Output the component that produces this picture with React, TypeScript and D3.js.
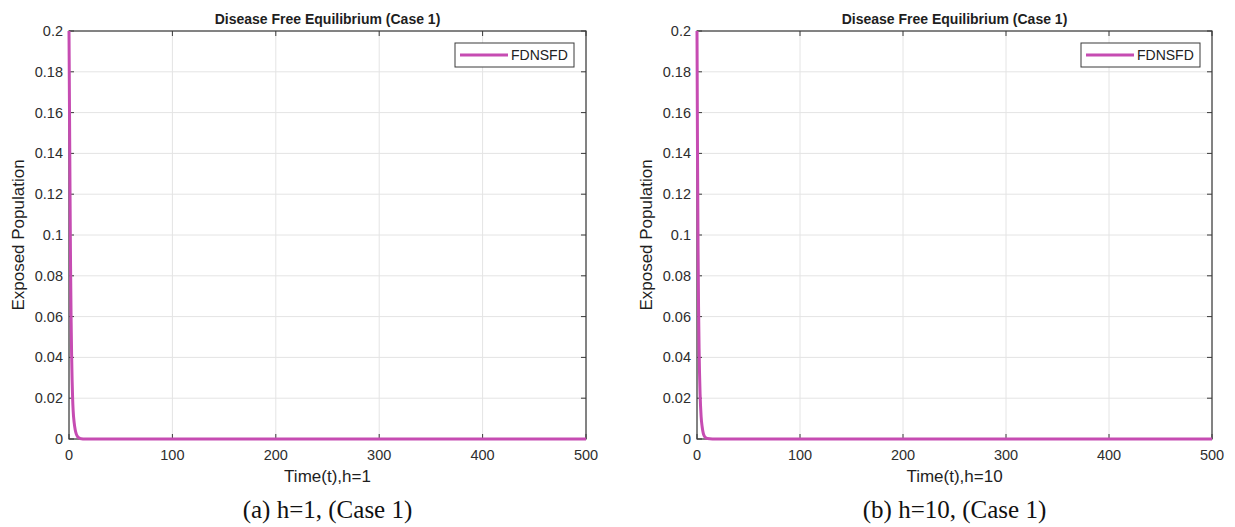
import React from "react";
import * as d3 from "d3";

const timeA = [0, 0.5, 1, 1.5, 2, 2.5, 3, 3.5, 4, 5, 6, 7, 8, 10, 12, 15, 50, 100, 200, 300, 400, 500];
const exposedA = [0.2, 0.16, 0.12, 0.085, 0.06, 0.042, 0.029, 0.02, 0.014, 0.008, 0.0045, 0.0025, 0.0014, 0.0005, 0.0001, 0, 0, 0, 0, 0, 0, 0];
const timeB = [0, 0.5, 1, 1.5, 2, 3, 4, 5, 6, 7, 8, 10, 15, 50, 100, 200, 300, 400, 500];
const exposedB = [0.2, 0.14, 0.095, 0.065, 0.045, 0.022, 0.011, 0.006, 0.003, 0.0015, 0.0008, 0.0002, 0, 0, 0, 0, 0, 0, 0];
const xTicks = [0, 100, 200, 300, 400, 500];
const yTicks = [0, 0.02, 0.04, 0.06, 0.08, 0.1, 0.12, 0.14, 0.16, 0.18, 0.2];
const title = "Disease Free Equilibrium (Case 1)";
const yLabel = "Exposed Population";
const seriesName = "FDNSFD";

const AX = "#3a3a3a";
const GRID = "#e4e4e4";
const LINE = "#c64cb2";
const SANS = "'Liberation Sans', Arial, Helvetica, sans-serif";
const SERIF = "'Liberation Serif', 'Times New Roman', serif";

function Panel({ x0, x1, t, v, xLabel, caption, id }: { x0: number; x1: number; t: number[]; v: number[]; xLabel: string; caption: string; id: string }) {
  const y0 = 31, y1 = 439;
  const xs = d3.scaleLinear().domain([0, 500]).range([x0, x1]);
  const ys = d3.scaleLinear().domain([0, 0.2]).range([y1, y0]);
  const pts: [number, number][] = t.map((tt, i) => [tt, v[i]]);
  const line = d3.line<[number, number]>().x(d => xs(d[0])).y(d => ys(d[1])).curve(d3.curveMonotoneX);
  const cx = (x0 + x1) / 2;
  const tl = 5;
  const lgX1 = x1 - 12, lgX0 = lgX1 - 119;
  return (
    <g>
      <defs>
        <clipPath id={id}><rect x={x0 - 2} y={y0 - 2} width={x1 - x0 + 4} height={y1 - y0 + 4} /></clipPath>
      </defs>
      <rect x={x0} y={y0} width={x1 - x0} height={y1 - y0} fill="#fff" />
      {xTicks.map(tk => <line key={"gx" + tk} x1={xs(tk)} x2={xs(tk)} y1={y0} y2={y1} stroke={GRID} strokeWidth={1} />)}
      {yTicks.map(tk => <line key={"gy" + tk} x1={x0} x2={x1} y1={ys(tk)} y2={ys(tk)} stroke={GRID} strokeWidth={1} />)}
      {xTicks.map(tk => (
        <g key={"tx" + tk}>
          <line x1={xs(tk)} x2={xs(tk)} y1={y1} y2={y1 - tl} stroke={AX} />
          <line x1={xs(tk)} x2={xs(tk)} y1={y0} y2={y0 + tl} stroke={AX} />
          <text x={xs(tk)} y={y1 + 21} textAnchor="middle" fontFamily={SANS} fontSize={14.5} fill="#2e2e2e">{tk}</text>
        </g>
      ))}
      {yTicks.map(tk => (
        <g key={"ty" + tk}>
          <line x1={x0} x2={x0 + tl} y1={ys(tk)} y2={ys(tk)} stroke={AX} />
          <line x1={x1} x2={x1 - tl} y1={ys(tk)} y2={ys(tk)} stroke={AX} />
          <text x={x0 - 6} y={ys(tk) + 5} textAnchor="end" fontFamily={SANS} fontSize={14.5} fill="#2e2e2e">{String(+tk.toFixed(2))}</text>
        </g>
      ))}
      <rect x={x0} y={y0} width={x1 - x0} height={y1 - y0} fill="none" stroke={AX} strokeWidth={1.2} />
      <path d={line(pts) || ""} fill="none" stroke={LINE} strokeWidth={3} clipPath={`url(#${id})`} />
      <rect x={lgX0} y={43} width={lgX1 - lgX0} height={24} fill="#fff" stroke={AX} strokeWidth={1} />
      <line x1={lgX0 + 5} x2={lgX0 + 53} y1={55} y2={55} stroke={LINE} strokeWidth={3} />
      <text x={lgX0 + 56} y={60} fontFamily={SANS} fontSize={14} fill="#222">{seriesName}</text>
      <text x={cx} y={24} textAnchor="middle" fontFamily={SANS} fontSize={14} fontWeight="bold" fill="#1e1e1e">{title}</text>
      <text transform={`translate(${x0 - 45},${(y0 + y1) / 2}) rotate(-90)`} textAnchor="middle" fontFamily={SANS} fontSize={17} fill="#1e1e1e">{yLabel}</text>
      <text x={cx} y={482} textAnchor="middle" fontFamily={SANS} fontSize={17} fill="#1e1e1e">{xLabel}</text>
      <text x={cx} y={518} textAnchor="middle" fontFamily={SERIF} fontSize={25} fill="#111">{caption}</text>
    </g>
  );
}

export default function App() {
  return (
    <svg width={1235} height={527} style={{ position: "absolute", left: 0, top: 0, background: "#fff" }}>
      <rect width={1235} height={527} fill="#fff" />
      <Panel id="cA" x0={69} x1={586} t={timeA} v={exposedA} xLabel="Time(t),h=1" caption="(a) h=1, (Case 1)" />
      <Panel id="cB" x0={697} x1={1212} t={timeB} v={exposedB} xLabel="Time(t),h=10" caption="(b) h=10, (Case 1)" />
    </svg>
  );
}
